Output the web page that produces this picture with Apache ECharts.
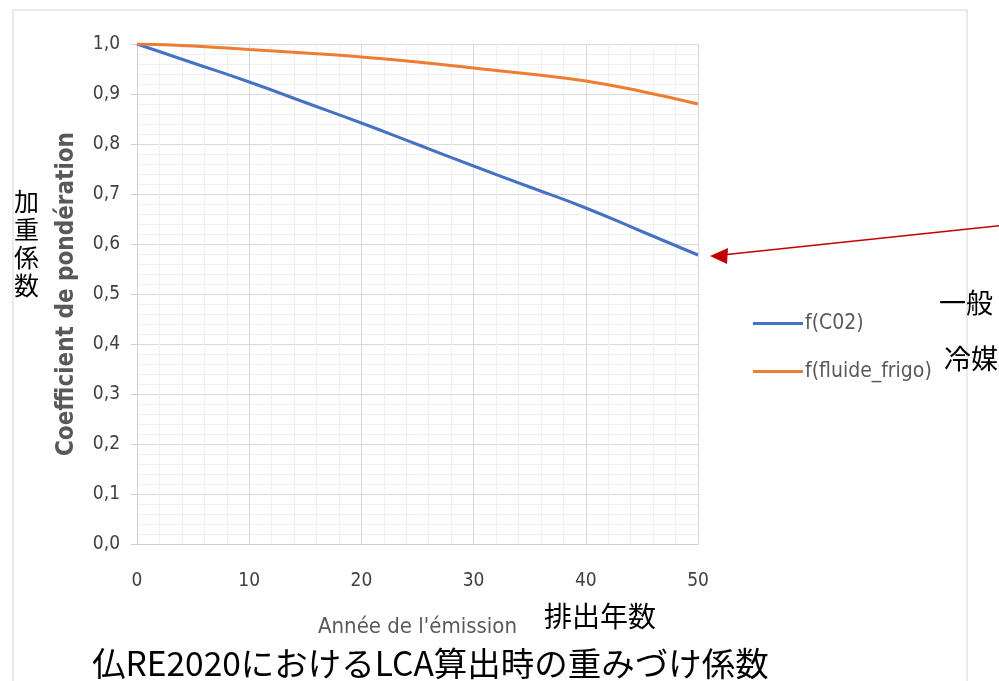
<!DOCTYPE html>
<html>
<head>
<meta charset="utf-8">
<script src="https://cdn.jsdelivr.net/npm/echarts@6/dist/echarts.min.js"></script>
<style>
  html, body { margin: 0; padding: 0; background: #fff; }
  #chart { width: 999px; height: 681px; }
</style>
</head>
<body>
<div id="chart"></div>
<script>
// years of emission
const years = [0, 5, 10, 15, 20, 25, 30, 35, 40, 45, 50]
// weighting coefficients
const fCO2 = [1.0, 0.962, 0.924, 0.883, 0.842, 0.799, 0.756, 0.714, 0.672, 0.625, 0.578]
const fFluide = [1.0, 0.996, 0.989, 0.982, 0.974, 0.964, 0.952, 0.940, 0.926, 0.905, 0.880]
const seriesNames = ['f(C02)', 'f(fluide_frigo)']
const yTickFmt = v => v.toFixed(1).replace('.', ',')

const chart = echarts.init(document.getElementById('chart'))

const narrow = '"Liberation Sans Narrow", "DejaVu Sans Condensed", "Open Sans", sans-serif'
const jp = '"Noto Sans CJK JP", sans-serif'

chart.setOption({
  backgroundColor: '#fff',
  animation: false,
  grid: { left: 137, right: 301, top: 44, bottom: 137, containLabel: false },
  legend: {
    orient: 'vertical',
    left: 748,
    top: 308,
    itemGap: 27,
    itemWidth: 50,
    itemHeight: 3,
    icon: 'rect',
    data: seriesNames,
    textStyle: { color: '#595959', fontSize: 21, fontFamily: narrow, padding: [0, 0, 0, -3] }
  },
  xAxis: {
    type: 'value',
    min: 0,
    max: 50,
    interval: 10,
    name: "Année de l'émission",
    nameLocation: 'middle',
    nameGap: 72,
    nameTextStyle: { color: '#595959', fontSize: 22, fontFamily: narrow },
    axisLine: { show: true, lineStyle: { color: '#d0d0d0' } },
    axisTick: { show: false },
    axisLabel: { color: '#404040', fontSize: 19, fontFamily: narrow, margin: 28 },
    splitLine: { show: true, lineStyle: { color: '#d9d9d9' } },
    minorTick: { show: false, splitNumber: 5 },
    minorSplitLine: { show: true, lineStyle: { color: '#f0f0f0' } }
  },
  yAxis: {
    type: 'value',
    min: 0,
    max: 1,
    interval: 0.1,
    name: 'Coefficient de pondération',
    nameLocation: 'middle',
    nameGap: 58,
    nameTextStyle: { color: '#595959', fontSize: 24, fontWeight: 'bold', fontFamily: narrow },
    axisLine: { show: true, lineStyle: { color: '#d0d0d0' } },
    axisTick: { show: true, length: 6, lineStyle: { color: '#d0d0d0' } },
    axisLabel: { color: '#404040', fontSize: 19, fontFamily: narrow, margin: 17, formatter: yTickFmt },
    splitLine: { show: true, lineStyle: { color: '#d9d9d9' } },
    minorTick: { show: false, splitNumber: 5 },
    minorSplitLine: { show: true, lineStyle: { color: '#f0f0f0' } }
  },
  series: [
    {
      name: seriesNames[0],
      type: 'line',
      smooth: true,
      showSymbol: false,
      data: years.map((x, i) => [x, fCO2[i]]),
      lineStyle: { color: '#4472c4', width: 3 },
      itemStyle: { color: '#4472c4' }
    },
    {
      name: seriesNames[1],
      type: 'line',
      smooth: true,
      showSymbol: false,
      data: years.map((x, i) => [x, fFluide[i]]),
      lineStyle: { color: '#ed7d31', width: 3 },
      itemStyle: { color: '#ed7d31' }
    }
  ],
  graphic: [
    // outer frame of the pasted chart
    { type: 'rect', shape: { x: 13, y: 10, width: 954, height: 700 }, style: { fill: 'none', stroke: '#e4e4e4', lineWidth: 1.5 }, silent: true, z: -1 },
    // red annotation arrow
    { type: 'line', shape: { x1: 1005, y1: 225, x2: 722, y2: 255 }, style: { stroke: '#c00000', lineWidth: 1.5 } },
    { type: 'polygon', shape: { points: [[710, 256], [728, 248], [727, 264]] }, style: { fill: '#c00000' } },
    { type: 'text', left: 939, top: 289, style: { text: '一般', fill: '#000', fontSize: 27, fontFamily: jp } },
    { type: 'text', left: 944, top: 345, style: { text: '冷媒', fill: '#000', fontSize: 27, fontFamily: jp } },
    { type: 'text', left: 14, top: 187, style: { text: '加\n重\n係\n数', fill: '#000', fontSize: 25, lineHeight: 28, fontFamily: jp } },
    { type: 'text', left: 544, top: 602, style: { text: '排出年数', fill: '#000', fontSize: 28, fontFamily: jp } },
    { type: 'text', left: 92, top: 647, style: { text: '仏RE2020におけるLCA算出時の重みづけ係数', fill: '#000', fontSize: 33.5, fontFamily: jp } }
  ]
})
</script>
</body>
</html>
